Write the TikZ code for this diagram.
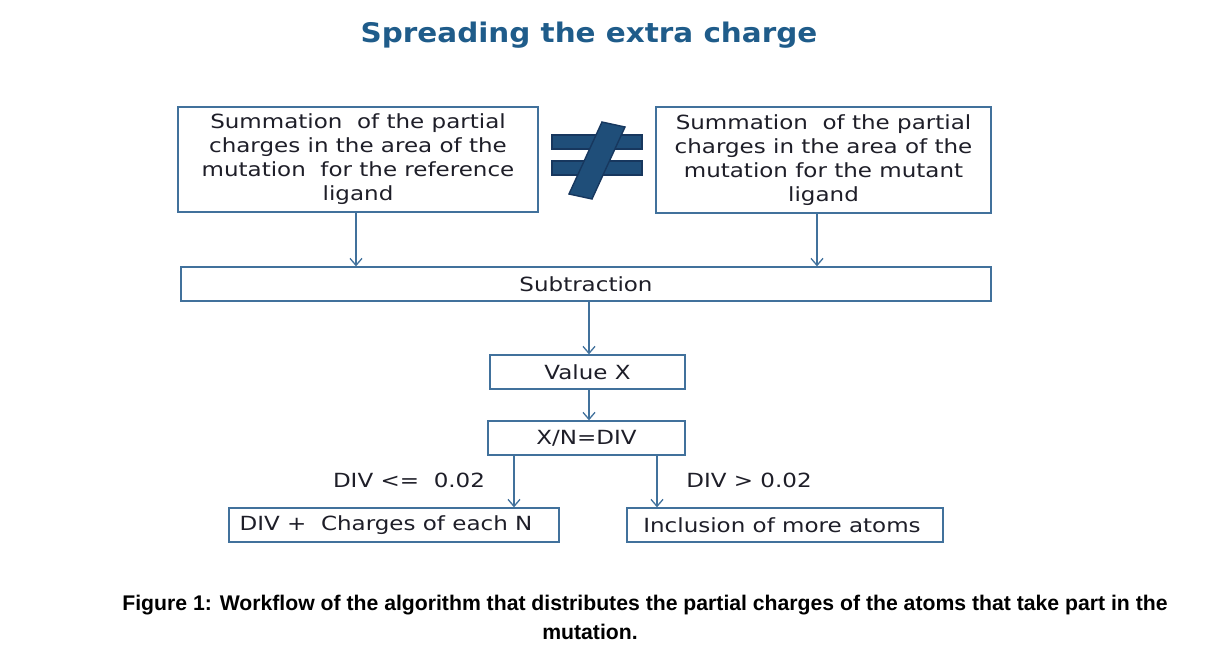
\documentclass[tikz,border=0pt]{standalone}
\usepackage{fontspec}
\setmainfont{DejaVu Sans}[FakeStretch=1.18]
\newfontfamily\titlefont{DejaVu Sans}[FakeStretch=1.09]
\newfontfamily\capfont{Liberation Sans}
\usetikzlibrary{arrows.meta}
\definecolor{bordc}{RGB}{65,113,156}
\definecolor{titlec}{RGB}{31,92,138}
\definecolor{neqfill}{RGB}{31,78,121}
\definecolor{neqline}{RGB}{23,55,94}
\definecolor{txtc}{RGB}{30,30,40}
\tikzset{
  flowbox/.style={draw=bordc, line width=1.3pt, fill=white, inner sep=0pt, text=txtc,
    font=\fontsize{19.5}{24}\selectfont, align=center},
  flowarrow/.style={draw=bordc, line width=1.3pt, -{Straight Barb[length=7pt,width=12pt,line width=1.3pt]}},
  condlabel/.style={text=txtc, font=\fontsize{19.5}{22}\selectfont},
}
\begin{document}
\begin{tikzpicture}[x=1pt,y=-1pt]
\useasboundingbox (0,0) rectangle (1229,665);
% title
\node[text=titlec, font=\titlefont\fontsize{27}{30}\selectfont\bfseries] (title) at (589,35) {Spreading the extra charge};
% boxes
\node[flowbox, minimum width=360pt, minimum height=105pt] (ref) at (358,159.5)
  {Summation\ \ of the partial\\charges in the area of the\\mutation\ \ for the reference\\ligand};
\node[flowbox, minimum width=335pt, minimum height=106pt] (mut) at (823.5,160)
  {Summation\ \ of the partial\\charges in the area of the\\mutation for the mutant\\ligand};
\node[flowbox, minimum width=810pt, minimum height=34pt] (sub) at (586,284) {Subtraction};
\node[flowbox, minimum width=195pt, minimum height=34pt] (val) at (587.5,372) {Value X};
\node[flowbox, minimum width=197pt, minimum height=34pt] (div) at (586.5,438) {X/N=DIV};
\node[flowbox, minimum width=330pt, minimum height=34pt] (lo) at (394,525) {DIV +\ \ Charges of each N\hspace*{16pt}};
\node[flowbox, minimum width=316pt, minimum height=34pt] (hi) at (785,525) {Inclusion of more atoms\hspace*{6pt}};
% not-equal sign
\begin{scope}[fill=neqfill, draw=neqline, line width=1.4pt]
  \fill[draw] (552,135) rectangle (642,149);
  \fill[draw] (552,161) rectangle (642,175);
  \fill[draw] (602,122) -- (625,127) -- (592,199) -- (569,194) -- cycle;
\end{scope}
% connectors
\draw[flowarrow] (ref.south -| 356,0) -- (sub.north -| 356,0);
\draw[flowarrow] (mut.south -| 817,0) -- (sub.north -| 817,0);
\draw[flowarrow] (sub.south -| 589,0) -- (val.north -| 589,0);
\draw[flowarrow] (val.south -| 589,0) -- (div.north -| 589,0);
\draw[flowarrow] (div.south -| 514,0) -- (lo.north -| 514,0);
\draw[flowarrow] (div.south -| 657,0) -- (hi.north -| 657,0);
% condition labels
\node[condlabel] (c1) at (409,480) {DIV <=\ \ 0.02};
\node[condlabel] (c2) at (749,480) {DIV > 0.02};
% caption
\node[font=\capfont\fontsize{21.2}{24}\selectfont\bfseries] (cap1) at (645,605)
  {Figure 1: Workflow of the algorithm that distributes the partial charges of the atoms that take part in the};
\node[font=\capfont\fontsize{21.2}{24}\selectfont\bfseries] (cap2) at (590,632) {mutation.};
\end{tikzpicture}
\end{document}
